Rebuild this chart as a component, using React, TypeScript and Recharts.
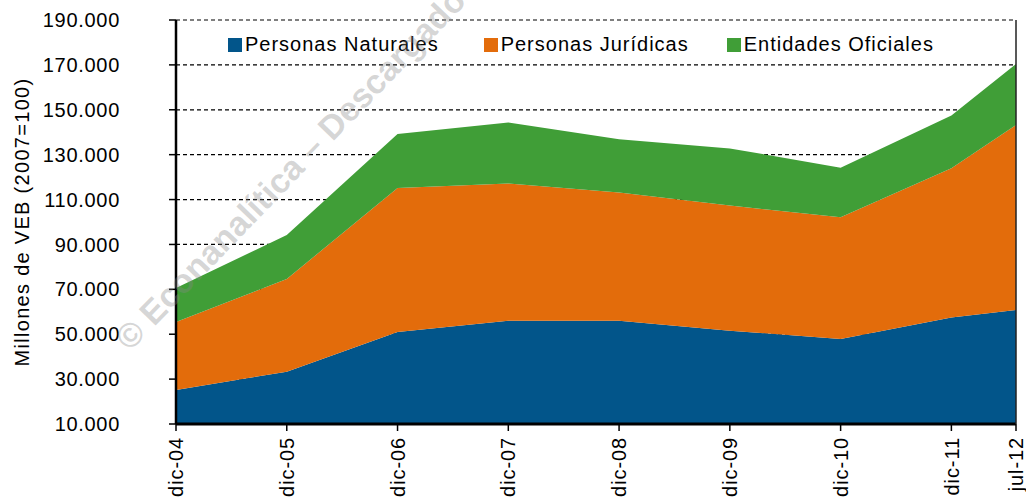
import { AreaChart, Area, XAxis, YAxis, CartesianGrid, Legend } from "recharts";

const periods = ["dic-04", "dic-05", "dic-06", "dic-07", "dic-08", "dic-09", "dic-10", "dic-11", "jul-12"];
// months since dic-04, so jul-12 sits closer to dic-11
const monthIndex = [0, 12, 24, 36, 48, 60, 72, 84, 91];
const naturales = [25200, 33300, 51000, 56000, 56000, 51600, 47900, 57400, 60800];
const juridicas = [30300, 41300, 64200, 61100, 57100, 55700, 54200, 66500, 82400];
const oficiales = [15100, 19600, 24000, 27200, 23800, 25500, 22100, 23500, 27200];
const yTicks = [10000, 30000, 50000, 70000, 90000, 110000, 130000, 150000, 170000, 190000];

const series = [
  { key: "naturales", name: "Personas Naturales", color: "#02558A" },
  { key: "juridicas", name: "Personas Jurídicas", color: "#E36C0B" },
  { key: "oficiales", name: "Entidades Oficiales", color: "#409E37" },
];

const data = periods.map((p, i) => ({
  label: p,
  m: monthIndex[i],
  naturales: naturales[i],
  juridicas: juridicas[i],
  oficiales: oficiales[i],
}));

const FONT = "'Liberation Sans', Arial, sans-serif";

const fmt = (v: number) => String(v).replace(/\B(?=(\d{3})+(?!\d))/g, ".");

function XTick(props: any) {
  const { x, y, payload } = props;
  const idx = monthIndex.indexOf(payload.value);
  return (
    <text
      x={x}
      y={y}
      transform={`rotate(-90, ${x}, ${y})`}
      textAnchor="end"
      dy="0.36em"
      fontSize={20}
      letterSpacing={0.9}
      fontFamily={FONT}
      fill="#000"
    >
      {periods[idx]}
    </text>
  );
}

function YLabel(props: any) {
  const vb = props.viewBox || { x: 0, y: 20, width: 176, height: 404 };
  const cx = vb.x + 22;
  const cy = vb.y + vb.height / 2;
  return (
    <text
      x={cx}
      y={cy}
      transform={`rotate(-90, ${cx}, ${cy})`}
      textAnchor="middle"
      dy="0.36em"
      fontSize={20}
      letterSpacing={1.3}
      fontFamily={FONT}
      fill="#000"
    >
      Millones de VEB (2007=100)
    </text>
  );
}

function LegendBox() {
  return (
    <div style={{ display: "flex", fontFamily: FONT, fontSize: 20, letterSpacing: 1, color: "#000" }}>
      {series.map((s, i) => (
        <div key={s.key} style={{ display: "flex", alignItems: "center", marginRight: i === 0 ? 45 : 38 }}>
          <span style={{ width: 14, height: 14, background: s.color, marginRight: 3, display: "inline-block" }} />
          <span>{s.name}</span>
        </div>
      ))}
    </div>
  );
}

export default function App() {
  return (
    <div style={{ position: "absolute", left: 0, top: 0, width: 1026, height: 502, background: "#fff" }}>
      <AreaChart width={1026} height={502} data={data} margin={{ top: 20, right: 0, bottom: 0, left: 0 }}>
        <CartesianGrid horizontal vertical={false} stroke="#000" strokeWidth={1.2} strokeDasharray="4 3" />
        <XAxis
          dataKey="m"
          type="number"
          domain={[0, 91]}
          ticks={monthIndex}
          height={78}
          tick={<XTick />}
          tickSize={7}
          tickMargin={6}
          tickLine={{ stroke: "#000", strokeWidth: 1.5 }}
          axisLine={{ stroke: "#000", strokeWidth: 3 }}
          interval={0}
        />
        <YAxis
          domain={[10000, 190000]}
          allowDataOverflow
          ticks={yTicks}
          width={176}
          tickFormatter={fmt}
          tickSize={7}
          tickMargin={49}
          tick={{ fontSize: 20, fill: "#000", fontFamily: FONT, letterSpacing: 0.7 }}
          tickLine={{ stroke: "#000", strokeWidth: 1.5 }}
          axisLine={{ stroke: "#000", strokeWidth: 2.5 }}
          label={<YLabel />}
          interval={0}
        />
        <YAxis
          yAxisId="r"
          orientation="right"
          domain={[10000, 190000]}
          width={10}
          tick={false}
          tickLine={false}
          axisLine={{ stroke: "#222", strokeWidth: 1.5 }}
        />
        <Legend
          layout="horizontal"
          verticalAlign="middle"
          align="center"
          content={<LegendBox />}
          wrapperStyle={{ top: 33, left: 228, width: 760 }}
        />
        {series.map((s) => (
          <Area
            key={s.key}
            dataKey={s.key}
            name={s.name}
            stackId="1"
            type="linear"
            stroke="none"
            fill={s.color}
            fillOpacity={1}
            isAnimationActive={false}
          />
        ))}
      </AreaChart>
      <svg width={1026} height={502} style={{ position: "absolute", left: 0, top: 0, pointerEvents: "none" }}>
        <text
          x={130}
          y={352}
          transform="rotate(-46, 130, 352)"
          fontSize={34}
          fontWeight="bold"
          fontFamily={FONT}
          fill="#888"
          fillOpacity={0.35}
        >
          © Econanalítica – Descargado
        </text>
      </svg>
    </div>
  );
}
